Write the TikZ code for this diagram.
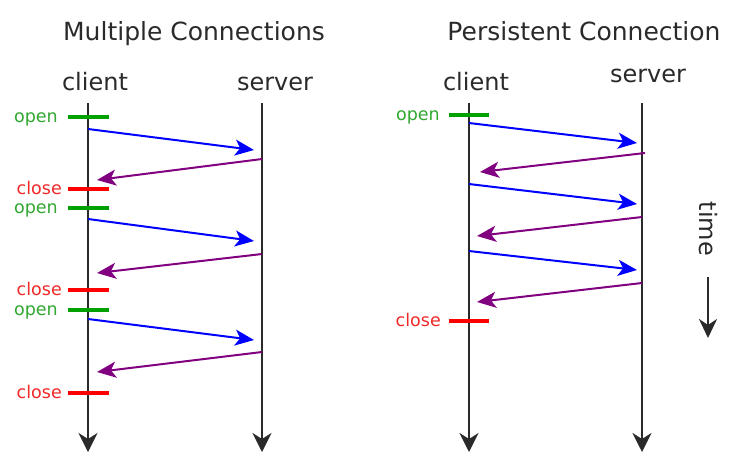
\documentclass[tikz,border=0pt]{standalone}
\usepackage{fontspec}
\setmainfont{DejaVu Sans}
\usetikzlibrary{arrows.meta}
\definecolor{txt}{HTML}{2A2A2A}
\definecolor{opengreen}{HTML}{00A000}
\definecolor{opentext}{HTML}{30A830}
\definecolor{closered}{HTML}{FF0000}
\definecolor{closetext}{HTML}{F02828}
\definecolor{reqblue}{HTML}{0000FF}
\definecolor{resppurple}{HTML}{800080}
\tikzset{
  title/.style={font=\fontsize{25}{29}\selectfont, text=txt, inner sep=0pt, anchor=base},
  role/.style={font=\fontsize{24}{28}\selectfont, text=txt, inner sep=0pt, anchor=base},
  axis/.style={draw=txt, line width=2.4pt, -{Stealth[length=19pt,width=19pt,inset=6pt]}},
  openlbl/.style={font=\fontsize{17.5}{20}\selectfont, text=opentext, inner sep=0pt, anchor=base east},
  closelbl/.style={font=\fontsize{17.5}{20}\selectfont, text=closetext, inner sep=0pt, anchor=base east},
  opentick/.style={draw=opengreen, line width=4pt},
  closetick/.style={draw=closered, line width=4pt},
  req/.style={draw=reqblue, line width=2pt, -{Stealth[length=19pt,width=16pt,inset=5pt]}},
  resp/.style={draw=resppurple, line width=2pt, -{Stealth[length=19pt,width=16pt,inset=5pt]}},
}
\begin{document}
\begin{tikzpicture}[x=1pt,y=-1pt]
\useasboundingbox (0,0) rectangle (743,467);
% ---------- Left: Multiple Connections ----------
\node[title] (t1) at (194,40) {Multiple Connections};
\node[role] (c1) at (95,90) {client};
\node[role] (s1) at (275,90) {server};
\coordinate (c1top) at (88,103); \coordinate (c1bot) at (88,452);
\coordinate (s1top) at (262,103); \coordinate (s1bot) at (262,452);
\draw[axis] (c1top) -- (c1bot);
\draw[axis] (s1top) -- (s1bot);
% ticks
\coordinate (o1a) at (68,117); \coordinate (o1b) at (109,117);
\coordinate (x1a) at (68,189); \coordinate (x1b) at (109,189);
\coordinate (o2a) at (68,208); \coordinate (o2b) at (109,208);
\coordinate (x2a) at (68,290); \coordinate (x2b) at (109,290);
\coordinate (o3a) at (68,310); \coordinate (o3b) at (109,310);
\coordinate (x3a) at (68,393); \coordinate (x3b) at (109,393);
\draw[opentick] (o1a) -- (o1b);
\draw[closetick] (x1a) -- (x1b);
\draw[opentick] (o2a) -- (o2b);
\draw[closetick] (x2a) -- (x2b);
\draw[opentick] (o3a) -- (o3b);
\draw[closetick] (x3a) -- (x3b);
\node[openlbl] (lo1) at (58,122) {open};
\node[closelbl] (lx1) at (62,194) {close};
\node[openlbl] (lo2) at (58,213) {open};
\node[closelbl] (lx2) at (62,295) {close};
\node[openlbl] (lo3) at (58,315) {open};
\node[closelbl] (lx3) at (62,398) {close};
% messages
\coordinate (q1s) at (88,129); \coordinate (q1e) at (254,150);
\coordinate (r1s) at (262,159); \coordinate (r1e) at (97,180);
\coordinate (q2s) at (88,219); \coordinate (q2e) at (254,241);
\coordinate (r2s) at (262,254); \coordinate (r2e) at (97,273);
\coordinate (q3s) at (88,319); \coordinate (q3e) at (254,340);
\coordinate (r3s) at (262,352); \coordinate (r3e) at (97,372);
\draw[req] (q1s) -- (q1e);
\draw[resp] (r1s) -- (r1e);
\draw[req] (q2s) -- (q2e);
\draw[resp] (r2s) -- (r2e);
\draw[req] (q3s) -- (q3e);
\draw[resp] (r3s) -- (r3e);
% ---------- Right: Persistent Connection ----------
\node[title] (t2) at (584,40) {Persistent Connection};
\node[role] (c2) at (476,90) {client};
\node[role] (s2) at (648,82) {server};
\coordinate (c2top) at (469,103); \coordinate (c2bot) at (469,452);
\coordinate (s2top) at (642,103); \coordinate (s2bot) at (642,452);
\draw[axis] (c2top) -- (c2bot);
\draw[axis] (s2top) -- (s2bot);
\coordinate (po1a) at (449,115); \coordinate (po1b) at (489,115);
\coordinate (px1a) at (449,321); \coordinate (px1b) at (489,321);
\draw[opentick] (po1a) -- (po1b);
\draw[closetick] (px1a) -- (px1b);
\node[openlbl] (plo1) at (440,120) {open};
\node[closelbl] (plx1) at (441,326) {close};
\coordinate (pq1s) at (469,123); \coordinate (pq1e) at (637,143);
\coordinate (pr1s) at (645,153); \coordinate (pr1e) at (480,172);
\coordinate (pq2s) at (469,184); \coordinate (pq2e) at (637,204);
\coordinate (pr2s) at (642,217); \coordinate (pr2e) at (477,236);
\coordinate (pq3s) at (469,251); \coordinate (pq3e) at (637,270);
\coordinate (pr3s) at (642,283); \coordinate (pr3e) at (477,302);
\draw[req] (pq1s) -- (pq1e);
\draw[resp] (pr1s) -- (pr1e);
\draw[req] (pq2s) -- (pq2e);
\draw[resp] (pr2s) -- (pr2e);
\draw[req] (pq3s) -- (pq3e);
\draw[resp] (pr3s) -- (pr3e);
% time
\node[font=\fontsize{24}{28}\selectfont, text=txt, inner sep=0pt, rotate=-90] (time) at (708,229) {time};
\coordinate (tA) at (708,277); \coordinate (tB) at (708,338);
\draw[draw=txt, line width=2.6pt, -{Stealth[length=19pt,width=18pt,inset=6pt]}] (tA) -- (tB);
\end{tikzpicture}
\end{document}
